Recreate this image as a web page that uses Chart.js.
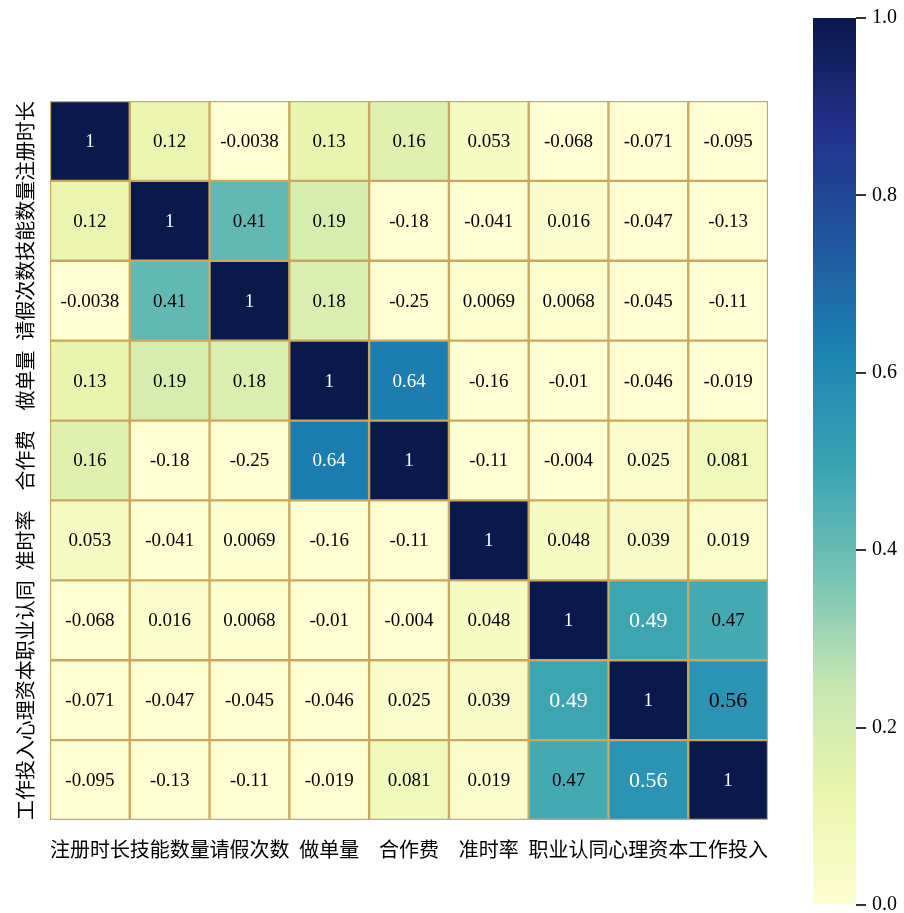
<!DOCTYPE html>
<html>
<head>
<meta charset="utf-8">
<script src="https://cdn.jsdelivr.net/npm/chart.js@4.4.0/dist/chart.umd.min.js"></script>
<style>
body{margin:0;background:#fff;overflow:hidden;}
#wrap{position:relative;width:904px;height:913px;}
#heat{position:absolute;left:0;top:0;}
#bar{position:absolute;left:790px;top:0;}
</style>
</head>
<body>
<div id="wrap">
<canvas id="heat" width="800" height="913"></canvas>
<canvas id="bar" width="114" height="925"></canvas>
</div>
<script>
var variables = ['注册时长','技能数量','请假次数','做单量','合作费','准时率','职业认同','心理资本','工作投入'];

// correlation matrix, one row per variable (top to bottom)
var corr = [
	[1, 0.12, -0.0038, 0.13, 0.16, 0.053, -0.068, -0.071, -0.095],
	[0.12, 1, 0.41, 0.19, -0.18, -0.041, 0.016, -0.047, -0.13],
	[-0.0038, 0.41, 1, 0.18, -0.25, 0.0069, 0.0068, -0.045, -0.11],
	[0.13, 0.19, 0.18, 1, 0.64, -0.16, -0.01, -0.046, -0.019],
	[0.16, -0.18, -0.25, 0.64, 1, -0.11, -0.004, 0.025, 0.081],
	[0.053, -0.041, 0.0069, -0.16, -0.11, 1, 0.048, 0.039, 0.019],
	[-0.068, 0.016, 0.0068, -0.01, -0.004, 0.048, 1, 0.49, 0.47],
	[-0.071, -0.047, -0.045, -0.046, 0.025, 0.039, 0.49, 1, 0.56],
	[-0.095, -0.13, -0.11, -0.019, 0.081, 0.019, 0.47, 0.56, 1]
];

// colour scale range and colorbar ticks
var colorMin = 0;
var colorMax = 1;
var colorStep = 0.2;

// cells whose annotation is drawn larger / in white
var bigCells = [[6,7],[7,6],[7,8],[8,7]];
var whiteCells = [[6,7],[7,6],[8,7]];

// yellow-green-blue ramp
var ramp = [
	[0.0, [254,254,210]],
	[0.125, [234,245,174]],
	[0.25, [197,230,178]],
	[0.375, [114,194,180]],
	[0.5, [56,162,178]],
	[0.625, [28,130,180]],
	[0.75, [32,85,158]],
	[0.875, [34,48,138]],
	[1.0, [9,25,76]]
];

function cmap(v){
	var t = (v - colorMin) / (colorMax - colorMin);
	t = Math.max(0, Math.min(1, t));
	for (var i = 1; i < ramp.length; i++){
		if (t <= ramp[i][0]){
			var a = ramp[i-1], b = ramp[i];
			var f = (t - a[0]) / (b[0] - a[0]);
			var c = a[1].map(function(x, k){ return Math.round(x + (b[1][k] - x) * f); });
			return 'rgb(' + c.join(',') + ')';
		}
	}
	return 'rgb(' + ramp[ramp.length-1][1].join(',') + ')';
}

function inList(list, r, c){
	return list.some(function(p){ return p[0] == r && p[1] == c; });
}

// one stacked dataset per row, bottom row first
var datasets = [];
for (var k = variables.length - 1; k >= 0; k--){
	datasets.push({
		label: variables[k],
		row: k,
		data: corr[k].map(function(){ return 1; }),
		backgroundColor: corr[k].map(cmap),
		borderColor: '#caa75c',
		borderWidth: 1.5,
		borderSkipped: false,
		barPercentage: 1,
		categoryPercentage: 1
	});
}

var cellText = {
	id: 'cellText',
	afterDatasetsDraw: function(chart){
		var ctx = chart.ctx;
		ctx.save();
		ctx.textAlign = 'center';
		ctx.textBaseline = 'middle';
		chart.data.datasets.forEach(function(ds, i){
			var r = ds.row;
			chart.getDatasetMeta(i).data.forEach(function(bar, c){
				var v = corr[r][c];
				var big = inList(bigCells, r, c);
				var white = v >= 0.6 || inList(whiteCells, r, c);
				ctx.font = (big ? 22 : 19) + 'px "Liberation Serif"';
				ctx.fillStyle = white ? '#ffffff' : '#000000';
				ctx.fillText(String(v), bar.x, (bar.y + bar.base) / 2 + 1);
			});
		});
		ctx.restore();
	}
};

//vertical row labels on the left
var rowLabels = {
	id: 'rowLabels',
	afterDraw: function(chart){
		var ctx = chart.ctx;
		var ys = chart.scales.y;
		ctx.save();
		ctx.font = '20px "Noto Sans CJK SC"';
		ctx.fillStyle = '#000';
		ctx.textAlign = 'center';
		ctx.textBaseline = 'middle';
		variables.forEach(function(name, i){
			var y = ys.getPixelForValue(variables.length - i - 0.5);
			ctx.save();
			ctx.translate(25, y);
			ctx.rotate(-Math.PI / 2);
			ctx.fillText(name, 0, 0);
			ctx.restore();
		});
		ctx.restore();
	}
};

new Chart(document.getElementById('heat'), {
	type: 'bar',
	data: { labels: variables, datasets: datasets },
	plugins: [cellText, rowLabels],
	options: {
		responsive: false,
		animation: false,
		layout: { padding: { left: 50, top: 101, right: 32, bottom: 43 } },
		plugins: { legend: { display: false }, tooltip: { enabled: false } },
		scales: {
			x: {
				stacked: true,
				grid: { display: false },
				border: { display: false },
				ticks: {
					autoSkip: false,
					maxRotation: 0,
					padding: 9,
					color: '#000',
					font: { family: 'Noto Sans CJK SC', size: 20 }
				}
			},
			y: { stacked: true, min: 0, max: variables.length, display: false }
		}
	}
});

// colorbar
new Chart(document.getElementById('bar'), {
	type: 'bar',
	data: {
		labels: [''],
		datasets: [{
			data: [colorMax],
			backgroundColor: function(c){
				var a = c.chart.chartArea;
				if (!a) return null;
				var g = c.chart.ctx.createLinearGradient(0, a.bottom, 0, a.top);
				ramp.forEach(function(s){ g.addColorStop(s[0], 'rgb(' + s[1].join(',') + ')'); });
				return g;
			},
			barPercentage: 1,
			categoryPercentage: 1
		}]
	},
	options: {
		responsive: false,
		animation: false,
		layout: { padding: { left: 23, top: 14, right: 5, bottom: 20 } },
		plugins: { legend: { display: false }, tooltip: { enabled: false } },
		scales: {
			x: { display: false },
			y: {
				position: 'right',
				min: colorMin,
				max: colorMax,
				ticks: {
					stepSize: colorStep,
					padding: 6,
					color: '#000',
					font: { family: 'Liberation Serif', size: 20 },
					callback: function(v){ return v.toFixed(1); }
				},
				grid: { drawOnChartArea: false, tickLength: 10, color: '#333', lineWidth: 2 },
				border: { display: false }
			}
		}
	}
});
</script>
</body>
</html>
